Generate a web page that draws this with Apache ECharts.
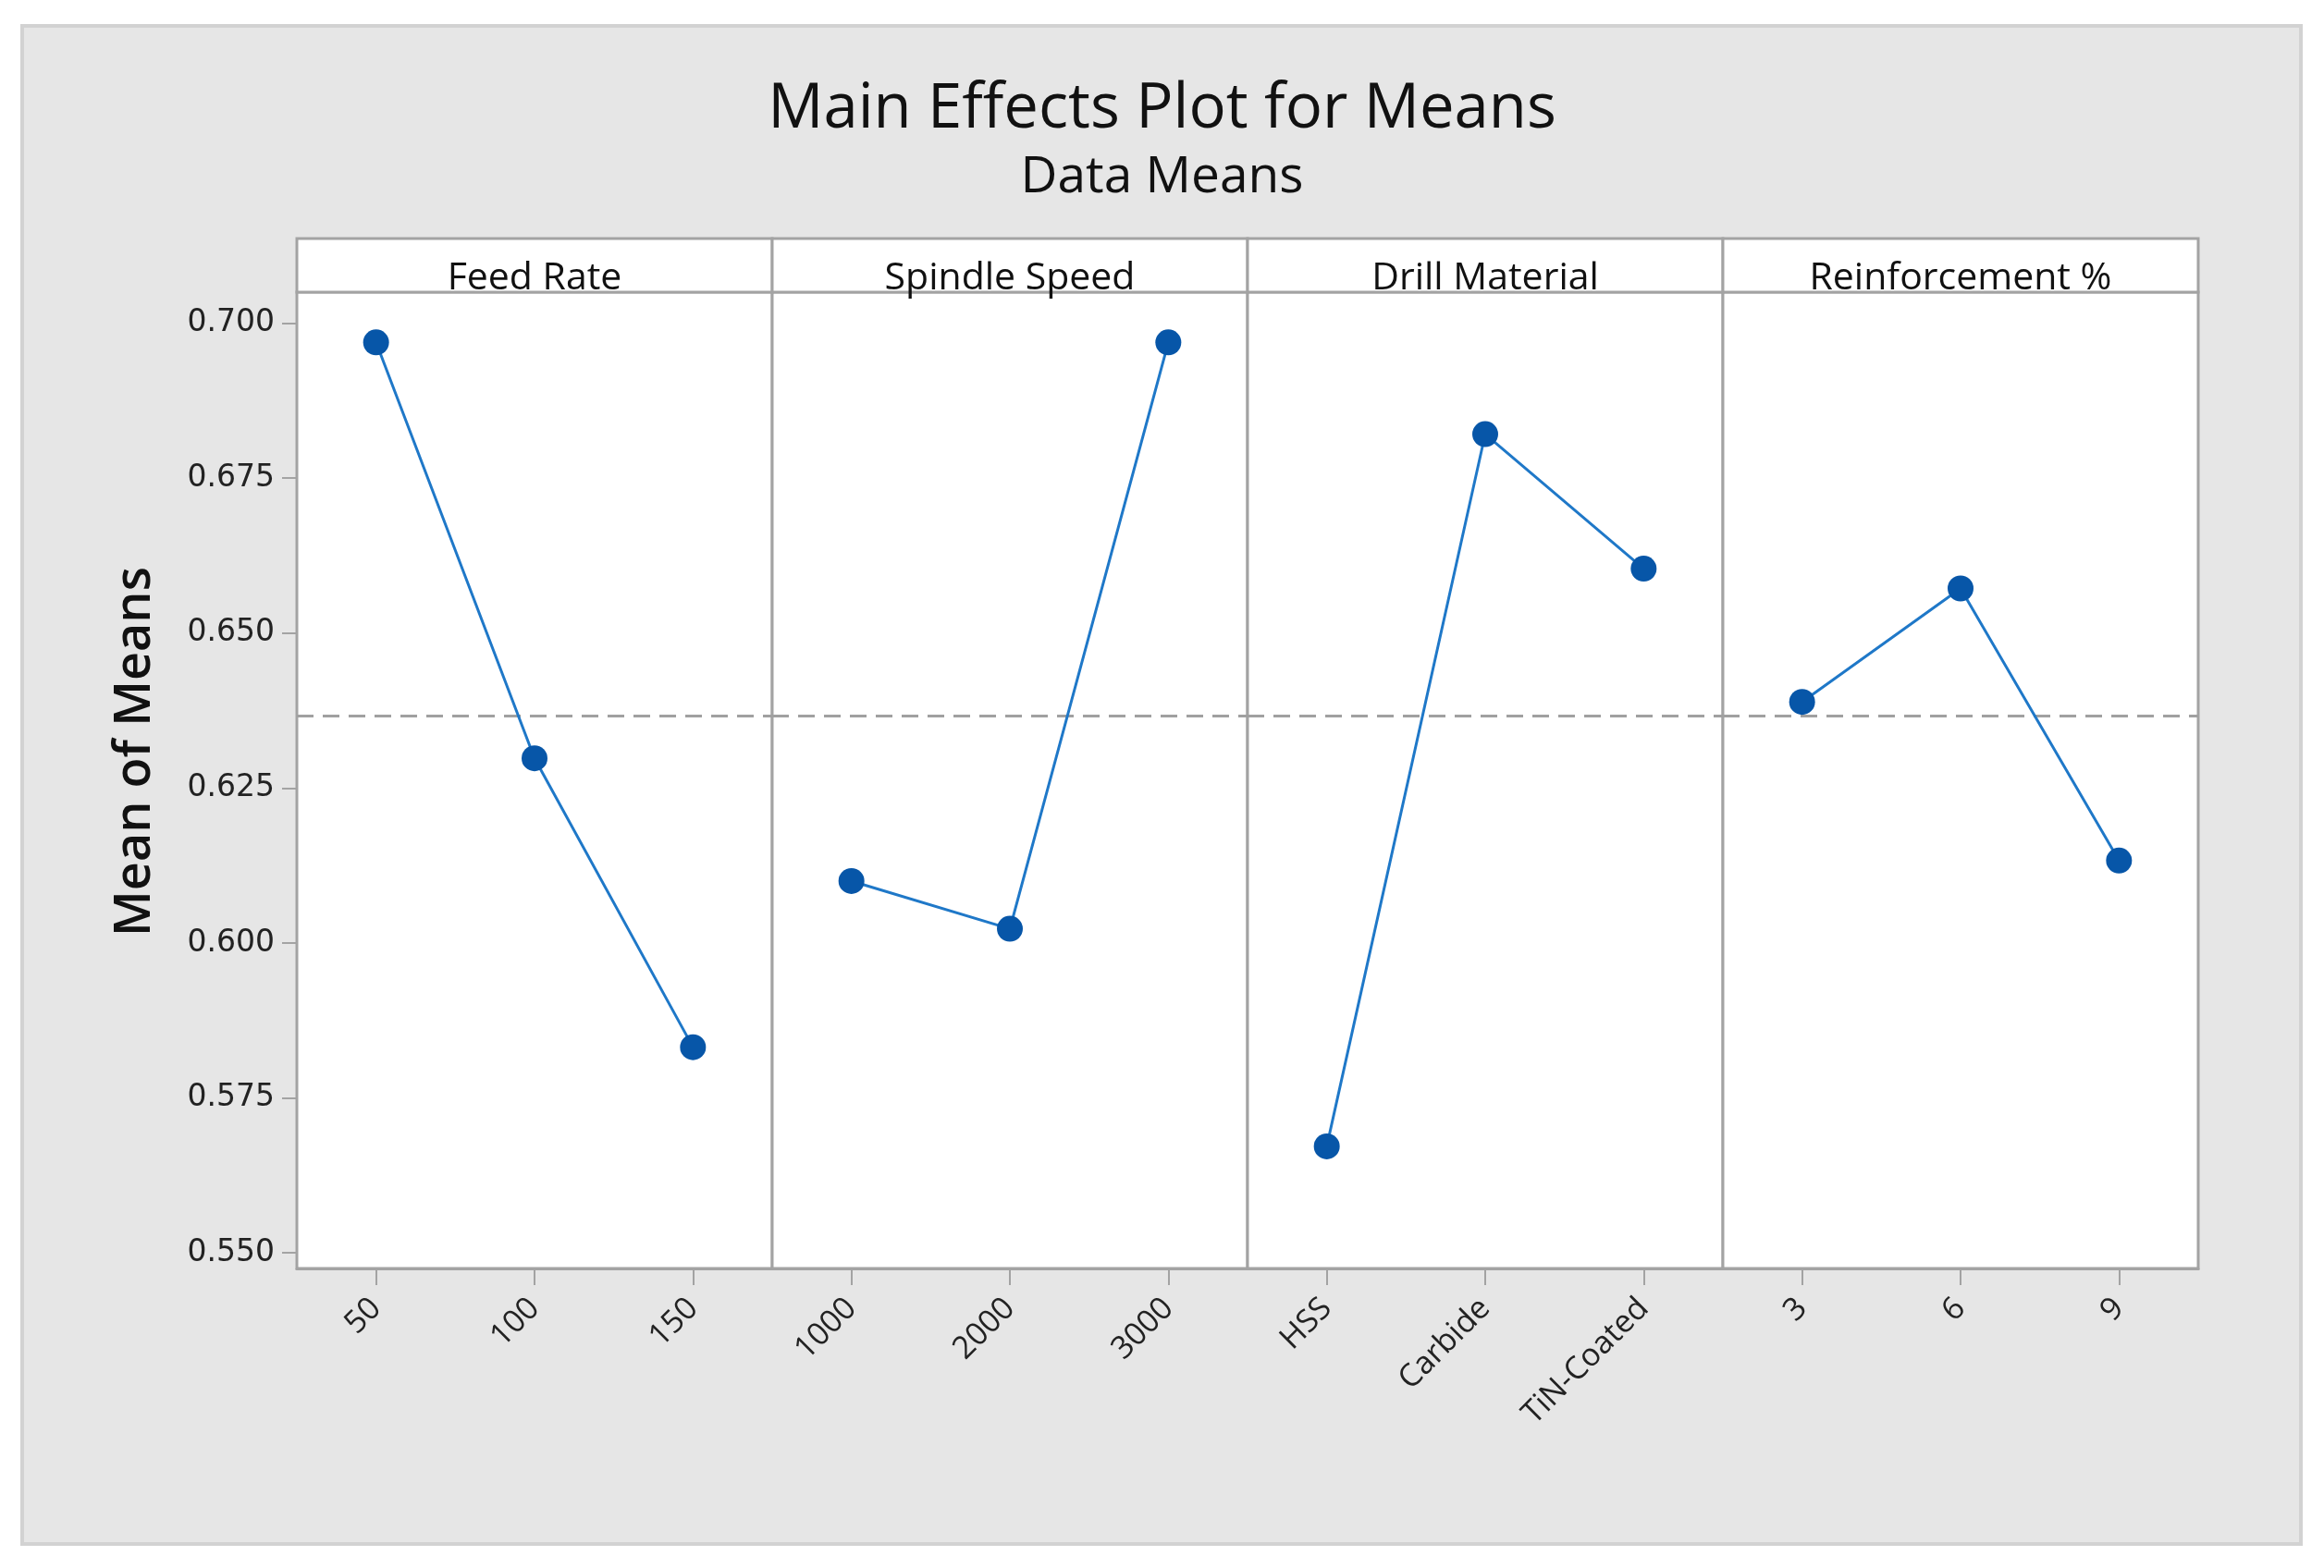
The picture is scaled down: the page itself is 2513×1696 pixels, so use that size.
<!DOCTYPE html>
<html>
<head>
<meta charset="utf-8">
<script src="https://cdn.jsdelivr.net/npm/echarts@6/dist/echarts.min.js"></script>
<style>
html,body{margin:0;padding:0;background:#fff;}
#chart{width:2513px;height:1696px;}
</style>
</head>
<body>
<div id="chart"></div>
<script>
// ---- Data ----
const panelNames = ['Feed Rate', 'Spindle Speed', 'Drill Material', 'Reinforcement %'];
const feedRateLevels = ['50', '100', '150'];
const spindleSpeedLevels = ['1000', '2000', '3000'];
const drillMaterialLevels = ['HSS', 'Carbide', 'TiN-Coated'];
const reinforcementLevels = ['3', '6', '9'];
const feedRateMeans = [0.6969, 0.6298, 0.5832];
const spindleSpeedMeans = [0.6100, 0.6023, 0.6969];
const drillMaterialMeans = [0.5672, 0.6821, 0.6604];
const reinforcementMeans = [0.6389, 0.6572, 0.6133];
const grandMean = 0.6366;
const yTickValues = [0.550, 0.575, 0.600, 0.625, 0.650, 0.675, 0.700];

const levels = [feedRateLevels, spindleSpeedLevels, drillMaterialLevels, reinforcementLevels];
const means = [feedRateMeans, spindleSpeedMeans, drillMaterialMeans, reinforcementMeans];

// ---- Layout ----
const PLOT_L = 321, PLOT_R = 2377, STRIP_T = 258, PLOT_T = 316, PLOT_B = 1372;
const PW = (PLOT_R - PLOT_L) / 4;
const BORDER = '#a3a3a3';
const LINE_BLUE = '#1f78c8';
const DOT_BLUE = '#0756a8';

const chart = echarts.init(document.getElementById('chart'));

const grids = [], xAxes = [], yAxes = [], series = [], graphics = [];

graphics.push({
  type: 'rect', z: -10,
  shape: {x: 24, y: 28, width: 2464, height: 1642},
  style: {fill: '#e6e6e6', stroke: '#d2d2d2', lineWidth: 4}
});

graphics.push({
  type: 'text', z: 11,
  x: 147, y: 813, rotation: Math.PI / 2,
  style: {text: 'Mean of Means', fill: '#111', font: '600 54px "Open Sans"', textAlign: 'center', textVerticalAlign: 'middle'}
});

for (let i = 0; i < 4; i++) {
  grids.push({
    left: PLOT_L + i * PW, width: PW, top: PLOT_T, height: PLOT_B - PLOT_T,
    show: true, backgroundColor: '#ffffff', borderColor: BORDER, borderWidth: 3
  });
  xAxes.push({
    type: 'category', gridIndex: i, data: levels[i], boundaryGap: true,
    axisLine: {show: true, lineStyle: {color: BORDER, width: 3}},
    axisTick: {show: true, alignWithLabel: true, length: 18, lineStyle: {color: BORDER, width: 2}},
    axisLabel: {rotate: 45, fontSize: 34, fontFamily: 'Open Sans', color: '#222', margin: 38},
    splitLine: {show: false}
  });
  const first = i === 0;
  yAxes.push({
    type: 'value', gridIndex: i, min: 0.5475, max: 0.705,
    axisLine: {show: false},
    splitLine: {show: false},
    axisTick: {show: first, length: 16, customValues: yTickValues, lineStyle: {color: BORDER, width: 2}},
    axisLabel: {show: first, customValues: yTickValues, fontSize: 33, fontFamily: 'DejaVu Sans', color: '#222', margin: 24,
      formatter: v => v.toFixed(3)}
  });
  series.push({
    type: 'line', xAxisIndex: i, yAxisIndex: i, data: means[i],
    symbol: 'circle', symbolSize: 28,
    lineStyle: {color: LINE_BLUE, width: 3},
    itemStyle: {color: DOT_BLUE},
    z: 5,
    markLine: {
      silent: true, symbol: 'none', label: {show: false}, precision: 4,
      lineStyle: {color: '#a0a0a0', width: 3, type: [18, 10]},
      data: [{yAxis: grandMean}]
    }
  });
  graphics.push({
    type: 'rect', z: 10,
    shape: {x: PLOT_L + i * PW, y: STRIP_T, width: PW, height: PLOT_T - STRIP_T},
    style: {fill: '#ffffff', stroke: BORDER, lineWidth: 3}
  });
  graphics.push({
    type: 'text', z: 11,
    x: PLOT_L + i * PW + PW / 2, y: 301,
    style: {text: panelNames[i], fill: '#111', font: '41px "Open Sans"', textAlign: 'center', textVerticalAlign: 'middle'}
  });
}

chart.setOption({
  animation: false,
  backgroundColor: '#ffffff',
  title: [
    {text: 'Main Effects Plot for Means', left: 'center', top: 80,
     textStyle: {fontSize: 67, fontWeight: 'normal', fontFamily: 'Open Sans', color: '#111'}},
    {text: 'Data Means', left: 'center', top: 160,
     textStyle: {fontSize: 55, fontWeight: 'normal', fontFamily: 'Open Sans', color: '#111'}}
  ],
  grid: grids, xAxis: xAxes, yAxis: yAxes, series: series,
  graphic: {elements: graphics}
});
</script>
</body>
</html>
